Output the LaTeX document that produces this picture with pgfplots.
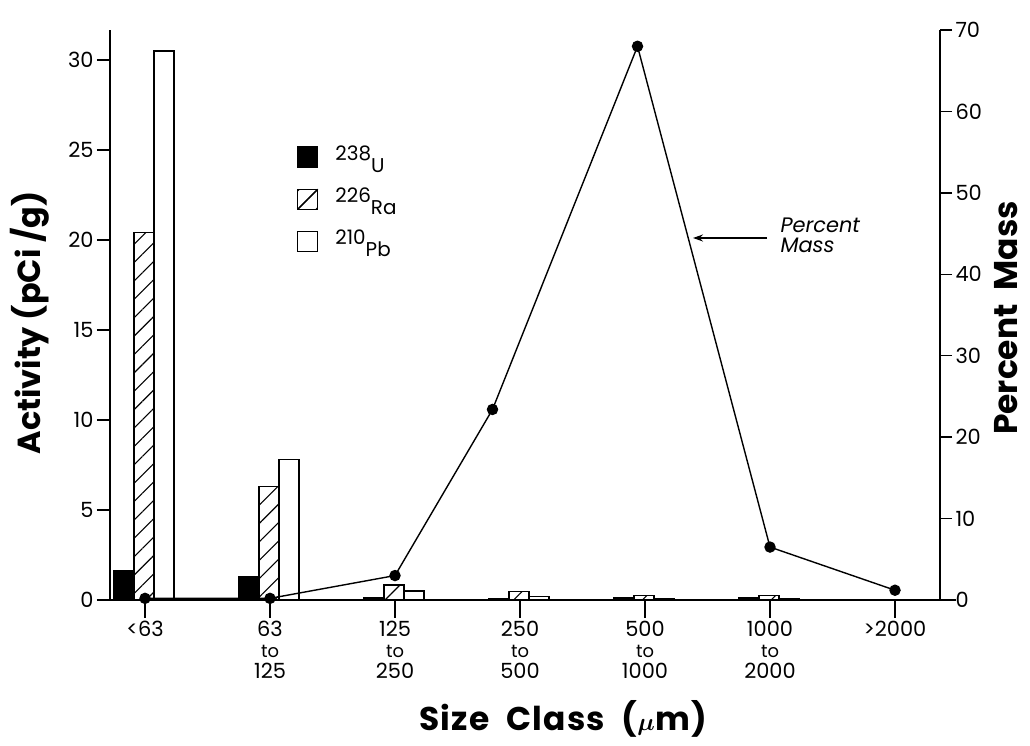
\documentclass[border=0pt]{standalone}
\usepackage{pgfplots}
\usepackage{pgfplotstable}
\pgfplotsset{compat=1.18}
\usepackage{fontspec}
\setmainfont{Poppins}
\usetikzlibrary{patterns.meta,arrows.meta}

% Activity by size class (pCi/g)
\pgfplotstableread{
x   U     Ra    Pb
0   1.65  20.4  30.5
1   1.30  6.3   7.8
2   0.15  0.83  0.50
3   0.05  0.45  0.20
4   0.15  0.25  0.10
5   0.15  0.25  0.10
6   0     0     0
}\activity

% Percent of total mass in each size class
\pgfplotstableread{
x     mass
0     0.2
1     0.2
2     3.0
2.78  23.4
3.94  68.0
5     6.5
6     1.2
}\mass

\tikzset{hatch/.style={pattern={Lines[angle=45,distance=13bp,line width=1.1bp]}}}

\newcommand{\iso}[2]{\hspace*{17bp}\raisebox{12bp}{#1}#2}

\pgfplotsset{
  common/.style={
    at={(110bp,146bp)}, anchor=south west,
    scale only axis, width=830bp, height=570bp,
    xmin=-0.28, xmax=6.36,
    axis line style={-, line width=1.4bp},
    tick style={line width=1.3bp, black},
    tick align=outside,
    /pgf/number format/assume math mode=true,
    ticklabel style={font=\fontsize{21}{21}\selectfont},
  },
  barstyle/.style={ybar, bar width=20bp, draw=black, line width=1.2bp},
}

\begin{document}
\begin{tikzpicture}
\path[use as bounding box] (0,0) rectangle (1030bp,746bp);

% left axis: activity bars
\begin{axis}[common,
  axis x line=none, axis y line*=left,
  ymin=0, ymax=31.67,
  ytick={0,5,...,30},
  major tick length=13bp,
  legend style={draw=none, fill=none, inner sep=0pt,
    at={(rel axis cs:0.2253,0.797)}, anchor=north west,
    row sep=14bp, nodes={inner sep=0pt},
    font=\fontsize{20}{20}\selectfont},
  legend cell align=left,
]
\addplot[barstyle, bar shift=-21bp, fill=black,
  legend image code/.code={\draw[fill=black,line width=1.2bp] (0bp,-7bp) rectangle (20bp,13bp);}]
  table[x=x,y=U]{\activity};
\addlegendentry{\iso{238}{U}}
\addplot[barstyle, bar shift=-1bp, hatch,
  legend image code/.code={\draw[line width=1.2bp] (0bp,-7bp) rectangle (20bp,13bp); \draw[line width=1.2bp] (0bp,-7bp) -- (20bp,13bp);}]
  table[x=x,y=Ra]{\activity};
\addlegendentry{\iso{226}{Ra}}
\addplot[barstyle, bar shift=19bp, fill=white,
  legend image code/.code={\draw[fill=white,line width=1.2bp] (0bp,-7bp) rectangle (20bp,13bp);}]
  table[x=x,y=Pb]{\activity};
\addlegendentry{\iso{210}{Pb}}
\end{axis}

% right axis: percent mass
\begin{axis}[common,
  axis x line=none, axis y line*=right,
  ymin=0, ymax=70,
  ytick={0,10,...,70},
  major tick length=12bp,
]
\addplot[black, line width=1.4bp, mark=*, mark size=5bp,
  mark options={fill=black}] table[x=x,y=mass]{\mass};
\end{axis}

% size class axis
\begin{axis}[common,
  axis x line*=bottom, axis y line=none,
  ymin=0, ymax=1,
  x axis line style={shorten <=-10bp, shorten >=-16bp},
  xtick={0,...,6},
  major tick length=18bp,
  xticklabel style={align=center},
  xticklabels={
    {<63},
    {63\\{\fontsize{18}{21}\selectfont to}\\125},
    {125\\{\fontsize{18}{21}\selectfont to}\\250},
    {250\\{\fontsize{18}{21}\selectfont to}\\500},
    {500\\{\fontsize{18}{21}\selectfont to}\\1000},
    {1000\\{\fontsize{18}{21}\selectfont to}\\2000},
    {>2000}},
]
\end{axis}

% axis titles
\node[rotate=90, font=\fontsize{32}{32}\selectfont\bfseries] at (30bp,423bp) {Activity (pCi /g)};
\node[rotate=90, font=\fontsize{33}{33}\selectfont\bfseries] at (1006bp,428bp) {Percent\ \ Mass};
\node[anchor=base, font=\fontsize{33}{33}\selectfont\bfseries\addfontfeature{LetterSpace=4}] at (563bp,16bp) {Size\ \ Class\ \ ({\boldmath$\mu$}m)};

% series annotation
\node[anchor=base west, font=\fontsize{21}{21}\selectfont\itshape] at (777bp,513bp) {Percent};
\node[anchor=base west, font=\fontsize{21}{21}\selectfont\itshape] at (777bp,493bp) {Mass};
\draw[-{Stealth[length=10bp,width=7bp]}, line width=1.4bp] (767bp,508bp) -- (693bp,508bp);
\end{tikzpicture}
\end{document}
